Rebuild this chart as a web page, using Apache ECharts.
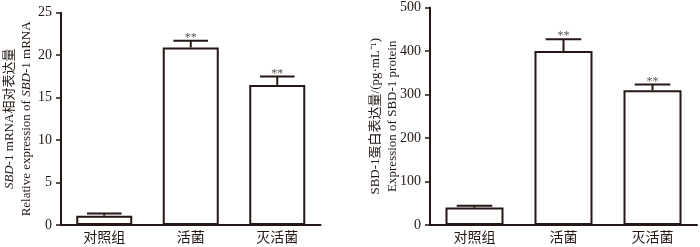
<!DOCTYPE html>
<html>
<head>
<meta charset="utf-8">
<script src="https://cdn.jsdelivr.net/npm/echarts@6/dist/echarts.min.js"></script>
<style>
  html, body { margin: 0; padding: 0; background: #fff; }
  #main { width: 700px; height: 247px; }
</style>
</head>
<body>
<div id="main"></div>
<script>
// 分组
const categories = ['对照组', '活菌', '灭活菌']
// 左图：SBD-1 mRNA 相对表达量
const mrnaMean = [1.1, 20.9, 16.5]
const mrnaErr = [0.25, 0.8, 1.0]
const mrnaTicks = [0, 5, 10, 15, 20, 25]
// 右图：SBD-1 蛋白表达量 (pg/mL)
const proteinMean = [40, 400, 310]
const proteinErr = [4, 27, 13]
const proteinTicks = [0, 100, 200, 300, 400, 500]
// 显著性标记
const sigMarks = ['', '**', '**']

const INK = '#231815'
const SERIF = '"Liberation Serif", "Times New Roman", "Noto Sans CJK SC", serif'

const chart = echarts.init(document.getElementById('main'))

function errData (means, errs) {
  return means.map((m, i) => [i, m, m + errs[i], sigMarks[i]])
}

function renderErr (params, api) {
  const x = api.value(0)
  const base = api.coord([x, api.value(1)])
  const top = api.coord([x, api.value(2)])
  const half = api.size([1, 0])[0] * 0.2
  const children = [
    {
      type: 'line',
      shape: { x1: base[0], y1: base[1], x2: top[0], y2: top[1] },
      style: { stroke: INK, lineWidth: 2 }
    },
    {
      type: 'line',
      shape: { x1: top[0] - half, y1: top[1], x2: top[0] + half, y2: top[1] },
      style: { stroke: INK, lineWidth: 2 }
    }
  ]
  const mark = api.value(3)
  if (mark) {
    children.push({
      type: 'text',
      x: top[0],
      y: top[1] - 3,
      style: {
        text: mark,
        fill: '#555',
        font: '12px ' + SERIF,
        align: 'center',
        verticalAlign: 'middle'
      }
    })
  }
  return { type: 'group', children: children }
}

function xAxisOpt (gridIndex) {
  return {
    type: 'category',
    gridIndex: gridIndex,
    data: categories,
    axisLine: { lineStyle: { color: INK, width: 2 } },
    axisTick: { alignWithLabel: true, length: 5, lineStyle: { color: INK, width: 1.5 } },
    axisLabel: { color: INK, fontSize: 14, fontFamily: SERIF, margin: 6 }
  }
}

function yAxisOpt (gridIndex, ticks, name, gap) {
  return {
    type: 'value',
    gridIndex: gridIndex,
    min: ticks[0],
    max: ticks[ticks.length - 1],
    interval: ticks[1] - ticks[0],
    splitLine: { show: false },
    axisLine: { show: true, lineStyle: { color: INK, width: 2 } },
    axisTick: { show: true, length: 5, lineStyle: { color: INK, width: 1.5 } },
    axisLabel: { color: INK, fontSize: 14, fontFamily: SERIF, margin: 9 },
    name: name,
    nameLocation: 'middle',
    nameRotate: 90,
    nameGap: gap,
    nameMoveOverlap: false,
    nameTextStyle: {
      color: INK,
      fontSize: 13,
      fontFamily: SERIF,
      lineHeight: 17,
      rich: {
        n: { color: INK, fontSize: 13, fontFamily: SERIF, lineHeight: 17 },
        i: { color: INK, fontSize: 13, fontFamily: SERIF, fontStyle: 'italic', lineHeight: 17 }
      }
    }
  }
}

function barSeries (axisIndex, data, width) {
  return {
    type: 'bar',
    xAxisIndex: axisIndex,
    yAxisIndex: axisIndex,
    data: data,
    barWidth: width,
    itemStyle: { color: '#fff', borderColor: INK, borderWidth: 2 },
    silent: true
  }
}

chart.setOption({
  animation: false,
  grid: [
    { left: 58, top: 12.7, width: 262.5, height: 212.3 },
    { left: 430, top: 7.5, width: 267, height: 217.5 }
  ],
  xAxis: [xAxisOpt(0), xAxisOpt(1)],
  yAxis: [
    yAxisOpt(0, mrnaTicks,
      '{i|SBD}{n|-1 mRNA相对表达量}\n{n|Relative expression of }{i|SBD}{n|-1 mRNA}', 26),
    yAxisOpt(1, proteinTicks,
      '{n|SBD-1蛋白表达量/(pg·mL⁻¹)}\n{n|Expression of SBD-1 protein}', 29)
  ],
  series: [
    barSeries(0, mrnaMean, 56),
    {
      type: 'custom',
      xAxisIndex: 0,
      yAxisIndex: 0,
      renderItem: renderErr,
      data: errData(mrnaMean, mrnaErr),
      z: 3
    },
    barSeries(1, proteinMean, 58),
    {
      type: 'custom',
      xAxisIndex: 1,
      yAxisIndex: 1,
      renderItem: renderErr,
      data: errData(proteinMean, proteinErr),
      z: 3
    }
  ]
})
</script>
</body>
</html>
